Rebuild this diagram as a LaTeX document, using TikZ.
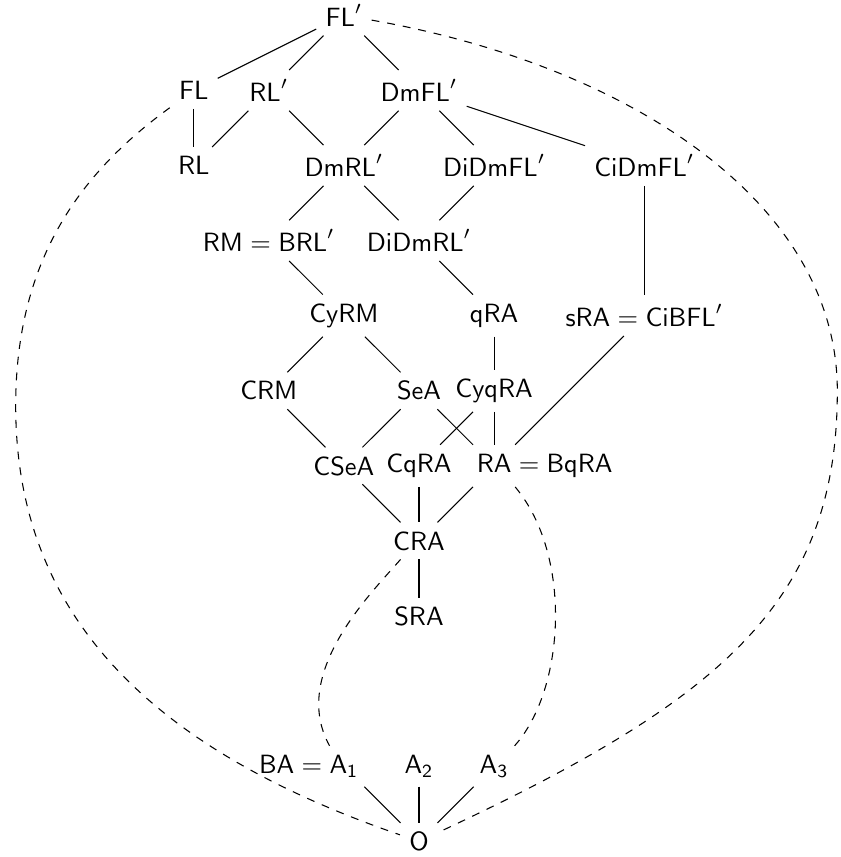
\documentclass[tikz,border=0pt]{standalone}
\usepackage{amsmath}

\begin{document}
\begin{tikzpicture}
  \useasboundingbox (-5.579,-0.208) rectangle (5.606,11.203);
  \tikzstyle{alg}=[rectangle, inner sep=0.3333em]
  \tikzstyle{dual}=[dashed]

  % Upper part
  \node[alg] (FLp) at (-1,11) {$\mathsf{FL}'$};
  \node[alg] (FL) at (-3,10) {$\mathsf{FL}$};
  \node[alg] (RLp) at (-2,10) {$\mathsf{RL}'$};
  \node[alg] (DmFLp) at (0,10) {$\mathsf{DmFL}'$};
  \node[alg] (RL) at (-3,9) {$\mathsf{RL}$};
  \node[alg] (DmRLp) at (-1,9) {$\mathsf{DmRL}'$};
  \node[alg] (DiDmFLp) at (1,9) {$\mathsf{DiDmFL}'$};
  \node[alg] (CiDmFLp) at (3,9) {$\mathsf{CiDmFL}'$};
  \node[alg] (RM) at (-2,8) {$\mathsf{RM}=\mathsf{BRL}'$};
  \node[alg] (DiDmRLp) at (0,8) {$\mathsf{DiDmRL}'$};

  % Middle part
  \node[alg] (CyRM) at (-1,7) {$\mathsf{CyRM}$};
  \node[alg] (qRA) at (1,7) {$\mathsf{qRA}$};
  \node[alg] (sRA) at (3,7) {$\mathsf{sRA}=\mathsf{CiBFL}'$};
  \node[alg] (CRM) at (-2,6) {$\mathsf{CRM}$};
  \node[alg] (SeA) at (0,6) {$\mathsf{SeA}$};
  \node[alg] (CyqRA) at (1,6) {$\mathsf{CyqRA}$};
  \node[alg] (CSeA) at (-1,5) {$\mathsf{CSeA}$};
  \node[alg] (CqRA) at (0,5) {$\mathsf{CqRA}$};
  \node[alg] (RA) at (1,5) {$\mathsf{RA}\rlap{${}=\mathsf{BqRA}$}$};
  \node[alg] (CRA) at (0,4) {$\mathsf{CRA}$};
  \node[alg] (SRA) at (0,3) {$\mathsf{SRA}$};

  % Bottom part
  \node[alg] (A1) at (-1,1) {$\llap{$\mathsf{BA}={}$}\mathsf{A_1}$};
  \node[alg] (A2) at (0,1) {$\mathsf{A_2}$};
  \node[alg] (A3) at (1,1) {$\mathsf{A_3}$};
  \node[alg] (O) at (0,0) {$\mathsf{O}$};

  \coordinate (lbend) at (-5.37,5.8);
  \coordinate (rbend) at (5.57,6.0);

  \draw (FLp) -- (FL);
  \draw (FLp) -- (RLp);
  \draw (FLp) -- (DmFLp);
  \draw (FL) -- (RL);
  \draw (RLp) -- (RL);
  \draw (RLp) -- (DmRLp);
  \draw (DmFLp) -- (DmRLp);
  \draw (DmFLp) -- (DiDmFLp);
  \draw (DmFLp) -- (CiDmFLp);
  \draw (DmRLp) -- (RM);
  \draw (DmRLp) -- (DiDmRLp);
  \draw (DiDmFLp) -- (DiDmRLp);
  \draw (CiDmFLp) -- (sRA);
  \draw (RM) -- (CyRM);
  \draw (DiDmRLp) -- (qRA);
  \draw (CyRM) -- (CRM);
  \draw (CyRM) -- (SeA);
  \draw (qRA) -- (CyqRA);
  \draw (sRA) -- (RA);
  \draw (CRM) -- (CSeA);
  \draw (SeA) -- (CSeA);
  \draw (SeA) -- (RA);
  \draw (CyqRA) -- (CqRA);
  \draw (CyqRA) -- (RA);
  \draw (CSeA) -- (CRA);
  \draw (CqRA) -- (CRA);
  \draw (RA) -- (CRA);
  \draw (CRA) -- (SRA);
  \draw (A1) -- (O);
  \draw (A2) -- (O);
  \draw (A3) -- (O);

  % Dashed links
  \draw[dual] (FL.216) .. controls +(216:1.4) and +(90:2) .. (lbend)
    .. controls +(-90:2.8) and +(161:3.5) .. (O.161);
  \draw[dual] (FLp.-10) .. controls +(-10:3.5) and +(90:2.5) .. (rbend)
    .. controls +(-90:2.8) and +(25:4.2) .. (O.25);
  \draw[dual] (CRA.225) .. controls +(229:0.6) and +(119:1.1) .. (A1.125);
  \draw[dual] (RA.-45) .. controls +(-50:1.2) and +(48:1.0) .. (A3.45);
\end{tikzpicture}
\end{document}
